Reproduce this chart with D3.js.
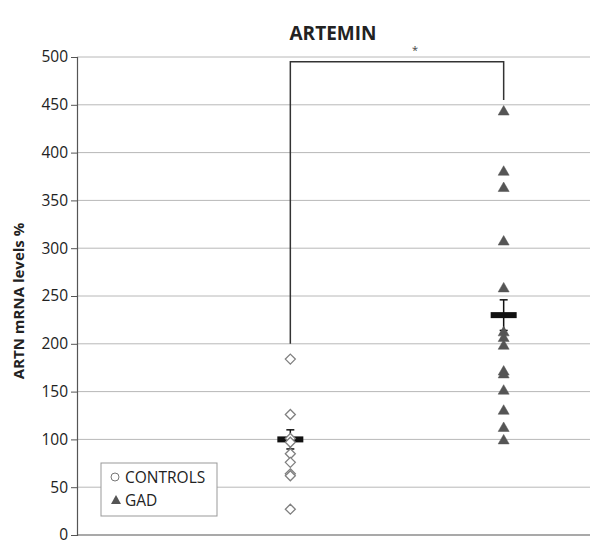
<!DOCTYPE html>
<html><head><meta charset="utf-8">
<script src="https://cdn.jsdelivr.net/npm/d3@7"></script>
<style>body{margin:0;background:#fff}svg{display:block}</style>
</head><body><svg id="c" width="602" height="542"></svg>
<script>
const groups = ["CONTROLS", "GAD"];
const controlsValues = [184, 126, 101, 97, 85, 76, 64, 62, 27];
const gadValues = [444, 381, 364, 308, 259, 213, 207, 199, 172, 169, 152, 131, 113, 100];
const groupMeans = [100, 230];
const groupSE = [10, 16];
const yTicks = [0, 50, 100, 150, 200, 250, 300, 350, 400, 450, 500];
const bracket = {from: 200, top: 495, to: 455, label: "*"};

const svg = d3.select("#c");
const m = {l: 77, r: 590, t: 57, b: 535};
const y = d3.scaleLinear().domain([0, 500]).range([m.b, m.t]);
const xs = d3.scaleLinear().domain([0, 3]).range([77, 717]);
const gx = g => xs(groups.indexOf(g) + 1);
const FONT = "Open Sans, sans-serif";

// gridlines
svg.append("g").selectAll("line").data(yTicks.filter(d => d > 0)).join("line")
  .attr("x1", m.l).attr("x2", m.r).attr("y1", d => y(d)).attr("y2", d => y(d))
  .attr("stroke", "#b8b8b8").attr("stroke-width", 1);

// y axis
const ax = svg.append("g").attr("transform", `translate(${m.l},0)`)
  .call(d3.axisLeft(y).tickValues(yTicks).tickSize(6).tickPadding(3));
ax.select(".domain").attr("stroke", "#555").attr("stroke-width", 1.2);
ax.selectAll(".tick line").attr("stroke", "#555");
ax.selectAll("text").attr("font-family", FONT).attr("font-size", 15.5).attr("fill", "#222");
// x axis line
svg.append("line").attr("x1", m.l).attr("x2", m.r).attr("y1", y(0)).attr("y2", y(0))
  .attr("stroke", "#555").attr("stroke-width", 1.2);

// title
svg.append("text").attr("x", 333).attr("y", 40).attr("text-anchor", "middle")
  .attr("font-family", FONT).attr("font-weight", "bold").attr("font-size", 19)
  .attr("fill", "#222").text("ARTEMIN");
// y label
svg.append("text").attr("transform", `translate(24,${y(250) + 5}) rotate(-90)`)
  .attr("text-anchor", "middle").attr("font-family", FONT)
  .attr("font-weight", "bold").attr("font-size", 15).attr("fill", "#222").text("ARTN mRNA levels %");

// bracket
const bx1 = gx("CONTROLS"), bx2 = gx("GAD");
svg.append("path")
  .attr("d", `M${bx1},${y(bracket.from)}V${y(bracket.top)}H${bx2}V${y(bracket.to)}`)
  .attr("fill", "none").attr("stroke", "#333").attr("stroke-width", 1.5);
svg.append("text").attr("x", (bx1 + bx2) / 2 + 18).attr("y", y(bracket.top) - 8)
  .attr("text-anchor", "middle").attr("font-family", FONT)
  .attr("font-size", 11).attr("fill", "#444").text(bracket.label);

// error bars and means
groups.forEach((g, i) => {
  const cx = gx(g);
  const eg = svg.append("g");
  eg.append("line").attr("x1", cx).attr("x2", cx).attr("y1", y(groupMeans[i] + groupSE[i])).attr("y2", y(groupMeans[i] - groupSE[i]))
    .attr("stroke", "#111").attr("stroke-width", 1.5);
  [groupMeans[i] + groupSE[i], groupMeans[i] - groupSE[i]].forEach(v => {
    eg.append("line").attr("x1", cx - 4).attr("x2", cx + 4).attr("y1", y(v)).attr("y2", y(v))
      .attr("stroke", "#111").attr("stroke-width", 1.5);
  });
  eg.append("rect").attr("x", cx - 13).attr("y", y(groupMeans[i]) - 3).attr("width", 26).attr("height", 6)
    .attr("fill", "#111");
});

// controls diamonds
svg.append("g").selectAll("path").data(controlsValues).join("path")
  .attr("transform", d => `translate(${gx("CONTROLS")},${y(d)})`)
  .attr("d", "M0,-5L5,0L0,5L-5,0Z")
  .attr("fill", "#fff").attr("stroke", "#808080").attr("stroke-width", 1.3);
// gad triangles
svg.append("g").selectAll("path").data(gadValues).join("path")
  .attr("transform", d => `translate(${gx("GAD")},${y(d)})`)
  .attr("d", "M0,-5L5.5,4.5L-5.5,4.5Z")
  .attr("fill", "#555").attr("stroke", "#555").attr("stroke-width", 0.5);

// legend
const lg = svg.append("g").attr("transform", "translate(101,463)");
lg.append("rect").attr("width", 116).attr("height", 53).attr("fill", "#fff").attr("stroke", "#999").attr("stroke-width", 1);
lg.append("circle").attr("cx", 14).attr("cy", 14).attr("r", 4).attr("fill", "#fff").attr("stroke", "#777").attr("stroke-width", 1);
lg.append("path").attr("transform", "translate(15,37)").attr("d", "M0,-5L5,4L-5,4Z").attr("fill", "#555");
lg.append("text").attr("x", 24).attr("y", 20).attr("font-family", FONT).attr("font-size", 15.5).attr("fill", "#222").text(groups[0]);
lg.append("text").attr("x", 24).attr("y", 43).attr("font-family", FONT).attr("font-size", 15.5).attr("fill", "#222").text(groups[1]);
</script></body></html>
